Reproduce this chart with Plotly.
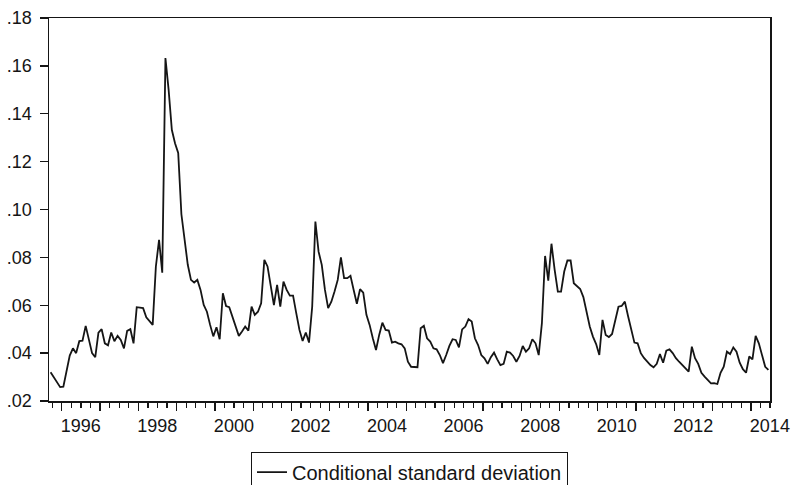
import pandas as pd
import plotly.graph_objects as go

# ---- data (monthly) ----
start_period = "1995-09"
series_name = "Conditional standard deviation"

cond_sd = [
    0.032, 0.030, 0.028, 0.0258, 0.026, 0.032, 0.039, 0.042, 0.040, 0.045, 0.0452, 0.0514,
    0.046, 0.040, 0.0383, 0.0486, 0.050, 0.0441, 0.0433, 0.0486, 0.045, 0.0472, 0.0455, 0.042,
    0.0493, 0.050, 0.0441, 0.0592, 0.059, 0.0588, 0.055, 0.0536, 0.0518, 0.0762, 0.0873, 0.0736,
    0.1633, 0.150, 0.1333, 0.1277, 0.1236, 0.098, 0.0873, 0.0769, 0.0706, 0.0695, 0.0706, 0.0664,
    0.0601, 0.0573, 0.0518, 0.047, 0.0508, 0.0458, 0.065, 0.0597, 0.0592, 0.0553, 0.0511, 0.0472,
    0.049, 0.0511, 0.0494, 0.0594, 0.056, 0.0573, 0.0608, 0.079, 0.0762, 0.0671, 0.0601, 0.0685,
    0.0594, 0.0699, 0.0664, 0.064, 0.064, 0.0567, 0.0497, 0.0451, 0.0486, 0.0444, 0.0594, 0.095,
    0.0824, 0.0769, 0.0664, 0.0588, 0.0615, 0.0657, 0.0706, 0.080, 0.0713, 0.0713, 0.0723, 0.0664,
    0.0606, 0.0667, 0.0653, 0.056, 0.0518, 0.0462, 0.0413, 0.0476, 0.0527, 0.0497, 0.0494, 0.0444,
    0.0448, 0.0441, 0.0437, 0.042, 0.0364, 0.0343, 0.0341, 0.0341, 0.0504, 0.0514, 0.0462, 0.0448,
    0.042, 0.0416, 0.0392, 0.0358, 0.0392, 0.043, 0.0458, 0.0455, 0.0424, 0.0499, 0.0511, 0.0542,
    0.0532, 0.0462, 0.0434, 0.0392, 0.0378, 0.0355, 0.0383, 0.0402, 0.0374, 0.035, 0.0355, 0.0406,
    0.0402, 0.0388, 0.0364, 0.0388, 0.043, 0.0406, 0.042, 0.0458, 0.0441, 0.0392, 0.0525, 0.0806,
    0.0703, 0.0857, 0.0748, 0.0657, 0.0657, 0.0741, 0.0787, 0.0787, 0.0692, 0.0678, 0.0668, 0.0634,
    0.0567, 0.0511, 0.0469, 0.0438, 0.0392, 0.0539, 0.0476, 0.0467, 0.048, 0.0532, 0.0594, 0.0597,
    0.0615, 0.0555, 0.0497, 0.0444, 0.0441, 0.040, 0.038, 0.0364, 0.035, 0.0341, 0.0355, 0.0396,
    0.036, 0.041, 0.0416, 0.040, 0.0379, 0.0364, 0.035, 0.034, 0.0323, 0.0427, 0.0379, 0.0355,
    0.0318, 0.0302, 0.0288, 0.0274, 0.0275, 0.0271, 0.0318, 0.0343, 0.0406, 0.0396, 0.0424, 0.0406,
    0.036, 0.0333, 0.0318, 0.0386, 0.0374, 0.0472, 0.0441, 0.0386, 0.0343, 0.033,
]

x_tick_years = [1996, 1997, 1998, 1999, 2000, 2001, 2002, 2003, 2004, 2005,
                2006, 2007, 2008, 2009, 2010, 2011, 2012, 2013, 2014]
x_tick_labels = ["1996", "", "1998", "", "2000", "", "2002", "", "2004", "",
                 "2006", "", "2008", "", "2010", "", "2012", "", "2014"]
y_tick_values = [0.02, 0.04, 0.06, 0.08, 0.10, 0.12, 0.14, 0.16, 0.18]
y_tick_labels = [".02", ".04", ".06", ".08", ".10", ".12", ".14", ".16", ".18"]

# ---- build ----
periods = pd.period_range(start_period, periods=len(cond_sd), freq="M")
x_vals = [p.year + (p.month - 0.5) / 12 for p in periods]
x_start = periods[0].year + (periods[0].month - 1) / 12
x_end = periods[-1].year + periods[-1].month / 12

ink = "#151515"

fig = go.Figure()
fig.add_trace(go.Scatter(
    x=x_vals, y=cond_sd, mode="lines", name=series_name,
    line=dict(color=ink, width=1.8), showlegend=True,
))

fig.update_layout(
    width=794, height=485,
    margin=dict(l=49, r=24, t=18, b=84, autoexpand=False),
    paper_bgcolor="white", plot_bgcolor="white",
    font=dict(family="Liberation Sans, Arial, sans-serif", size=18, color=ink),
    showlegend=True,
    legend=dict(
        orientation="h", x=0.5, xanchor="center", y=-0.132, yanchor="top",
        bordercolor=ink, borderwidth=1, bgcolor="white",
        font=dict(size=20, color=ink),
    ),
)

fig.update_xaxes(
    range=[x_start, x_end],
    tickmode="array", tickvals=x_tick_years, ticktext=x_tick_labels,
    ticks="outside", ticklen=8, tickwidth=1.3, tickcolor=ink,
    ticklabelshift=19,
    showline=True, linecolor=ink, linewidth=1.5, mirror=True,
    showgrid=False, zeroline=False,
    minor=dict(dtick=0.25, tick0=1996, ticks="outside", ticklen=5,
               tickwidth=1.2, tickcolor=ink, showgrid=False),
)
fig.update_yaxes(
    range=[0.02, 0.18],
    tickmode="array", tickvals=y_tick_values, ticktext=y_tick_labels,
    ticks="outside", ticklen=8, tickwidth=1.3, tickcolor=ink,
    ticklabelstandoff=4,
    showline=True, linecolor=ink, linewidth=1.5, mirror=True,
    showgrid=False, zeroline=False,
)

fig.write_html(
    "out.html",
    config={"displayModeBar": False, "staticPlot": True},
    post_script="document.body.style.margin='0';document.body.style.overflow='hidden';",
)
